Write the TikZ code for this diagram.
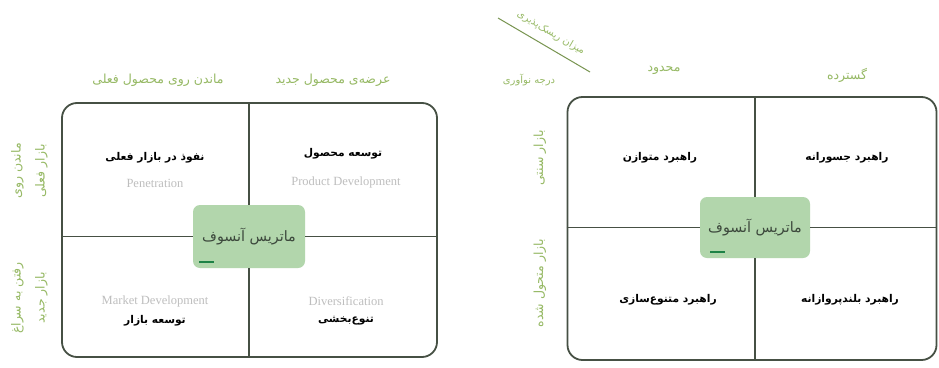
\documentclass[tikz,border=0pt]{standalone}
\usepackage{fontspec}
\usetikzlibrary{positioning}
\TeXXeTstate=1
\newfontfamily\fa[Script=Arabic]{DejaVu Sans}
\newfontfamily\lat{Liberation Serif}
\newcommand{\pers}[1]{\beginR#1\endR}
\definecolor{AnGrid}{RGB}{70,80,68}
\definecolor{AnOlive}{RGB}{150,185,100}
\definecolor{AnGray}{RGB}{190,190,190}
\definecolor{AnMint}{RGB}{178,214,172}
\definecolor{AnInk}{RGB}{60,72,60}
\definecolor{AnLeaf}{RGB}{30,130,70}

\begin{document}
\begin{tikzpicture}[x=1pt, y=-1pt,
          frame/.style={draw=AnGrid, line width=1.8pt, rounded corners=15pt,
                        inner sep=0pt},
          cell/.style={font=\fa\bfseries\fontsize{10.7}{13}\selectfont, text=black},
          eng/.style={font=\lat\fontsize{12.5}{15}\selectfont, text=AnGray},
          hdr/.style={font=\fa\fontsize{12.5}{24}\selectfont, text=AnOlive},
          side/.style={hdr, rotate=90, align=center},
          core/.style={rounded corners=7pt, fill=AnMint, minimum width=112pt,
                       minimum height=63pt, font=\fa\fontsize{14.3}{17}\selectfont,
                       text=AnInk},
          tag/.style={fill=AnLeaf, minimum width=15pt, minimum height=2.5pt,
                      inner sep=0pt},
          div/.style={draw=AnGrid, line width=1.8pt}
        ]
        \useasboundingbox[fill=white] (0,0) rectangle (939,367);

        % Ansoff matrix
        \node[frame, minimum width=375pt, minimum height=254pt] (lm) at (249.5,230) {};
        \node[core] (core1) at (249,236.5) {};
        \draw[div] (lm.north -| core1) -- (core1.north);
        \draw[div] (core1.south) -- (lm.south -| core1);
        \draw[div] (lm.west |- core1) -- (core1.west);
        \draw[div] (core1.east) -- (lm.east |- core1);
        \node[core, fill=none] (title1) at (core1) {\pers{ماتریس آنسوف}};
        \node[tag] (tag1) at (206,262) {};

        \node[hdr] (colA) at (158,80) {\pers{ماندن روی محصول فعلی}};
        \node[hdr] (colB) at (333,80) {\pers{عرضه‌ی محصول جدید}};
        \node[side] (rowA) at (29.5,171) {\pers{ماندن روی}\\\pers{بازار فعلی}};
        \node[side] (rowB) at (29.5,298) {\pers{رفتن به سراغ}\\\pers{بازار جدید}};

        \node[cell] (pen) at (155,158) {\pers{نفوذ در بازار فعلی}};
        \node[eng] (penE) at (155,183) {Penetration};
        \node[cell] (prd) at (343,154) {\pers{توسعه محصول}};
        \node[eng] (prdE) at (346,182) {Product Development};
        \node[eng] (mktE) at (155,301) {Market Development};
        \node[cell] (mkt) at (155,321) {\pers{توسعه بازار}};
        \node[eng] (divE) at (346,301) {Diversification};
        \node[cell] (dvs) at (346,321) {\pers{تنوع‌بخشی}};

        % innovation matrix
        \node[frame, minimum width=369pt, minimum height=263pt] (rm) at (752,228.5) {};
        \node[core, minimum width=110pt, minimum height=61pt] (core2) at (755,227.5) {};
        \draw[div] (rm.north -| core2) -- (core2.north);
        \draw[div] (core2.south) -- (rm.south -| core2);
        \draw[div] (rm.west |- core2) -- (core2.west);
        \draw[div] (core2.east) -- (rm.east |- core2);
        \node[core, fill=none] (title2) at (core2) {\pers{ماتریس آنسوف}};
        \node[tag] (tag2) at (717,252) {};

        \coordinate (slashA) at (498,18);
        \coordinate (slashB) at (590,72);
        \draw[AnOlive!80!black, line width=1pt] (slashA) -- (slashB);
        \node[hdr, font=\fa\fontsize{10}{12}\selectfont, rotate=-30.4] (risk) at (551,33)
              {\pers{میزان ریسک‌پذیری}};
        \node[hdr, font=\fa\fontsize{10}{12}\selectfont] (inno) at (529,80) {\pers{درجه نوآوری}};
        \node[hdr] (colC) at (664,70) {\pers{محدود}};
        \node[hdr] (colD) at (847,75) {\pers{گسترده}};
        \node[side] (rowC) at (540,158) {\pers{بازار سنتی}};
        \node[side] (rowD) at (540,283) {\pers{بازار متحول شده}};

        \node[cell] (bal) at (660,158) {\pers{راهبرد متوازن}};
        \node[cell] (bold) at (847,158) {\pers{راهبرد جسورانه}};
        \node[cell] (var) at (668,300) {\pers{راهبرد متنوع‌سازی}};
        \node[cell] (amb) at (850,300) {\pers{راهبرد بلندپروازانه}};
      \end{tikzpicture}
\end{document}
